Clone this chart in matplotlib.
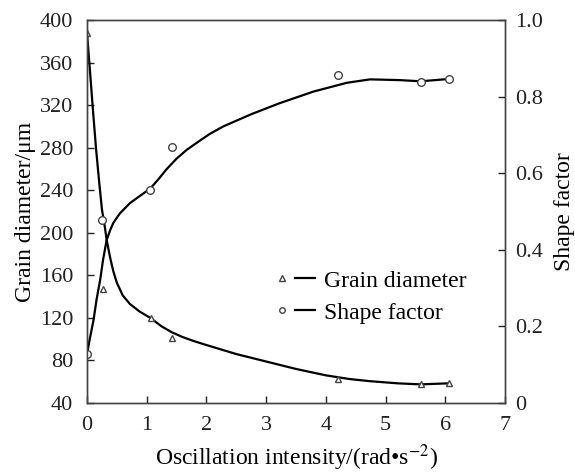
import matplotlib
matplotlib.use("Agg")
import matplotlib.pyplot as plt
from matplotlib.lines import Line2D
from matplotlib.legend_handler import HandlerTuple

plt.rcParams['font.family'] = ['Liberation Serif', 'DejaVu Serif']
plt.rcParams['mathtext.fontset'] = 'stix'

# measured points
x_grain = [0, 0.27, 1.08, 1.42, 4.2, 5.6, 6.06]
d_grain = [388, 147, 120, 101, 63, 58, 59]
x_shape = [0, 0.25, 1.06, 1.42, 4.2, 5.6, 6.06]
s_shape = [0.128, 0.477, 0.556, 0.668, 0.856, 0.838, 0.846]

# fitted curves
xc_grain = [0, 0.05, 0.1, 0.15, 0.2, 0.25, 0.3, 0.33, 0.39, 0.44, 0.5, 0.6, 0.72, 0.88, 1.06,
            1.25, 1.42, 1.6, 1.8, 2.0, 2.5, 3.0, 3.5, 4.0, 4.4, 4.74, 5.2, 5.58, 6.06]
dc_grain = [388, 352, 315, 280, 250, 222, 205, 193, 176, 164, 153, 141, 133, 126, 120,
            112, 106.5, 102, 98, 94.5, 86, 79, 72, 66, 62.5, 60.5, 58.5, 57.5, 58.5]
xc_shape = [0, 0.05, 0.11, 0.16, 0.22, 0.27, 0.33, 0.39, 0.44, 0.55, 0.72, 0.88, 1.06,
            1.2, 1.33, 1.5, 1.67, 1.89, 2.05, 2.28, 2.75, 3.23, 3.79, 4.35, 4.74, 5.24, 5.59, 6.06]
sc_shape = [0.128, 0.17, 0.217, 0.27, 0.321, 0.375, 0.426, 0.452, 0.47, 0.495, 0.522, 0.54, 0.56,
            0.585, 0.61, 0.638, 0.661, 0.685, 0.702, 0.722, 0.754, 0.783, 0.813, 0.836, 0.845,
            0.843, 0.84, 0.846]

fig = plt.figure(figsize=(5.75, 4.73), dpi=100)
ax = fig.add_axes([87/575, 1-403/473, (505-87)/575, (403-20)/473])
ax2 = ax.twinx()

ax.plot(xc_grain, dc_grain, color='black', lw=1.6)
ax.plot(x_grain, d_grain, linestyle='none', marker='^', ms=5, mfc='white', mec='#444444', mew=1)
ax2.plot(xc_shape, sc_shape, color='black', lw=1.6)
ax2.plot(x_shape, s_shape, linestyle='none', marker='o', ms=5.5, mfc='white', mec='#444444', mew=1)

ax.set_xlim(0, 7)
ax.set_ylim(40, 400)
ax2.set_ylim(0, 1.0)
ax.set_xticks(range(0, 8))
ax.set_yticks(range(40, 401, 40))
ax2.set_yticks([0, 0.2, 0.4, 0.6, 0.8, 1.0])
ax2.set_yticklabels(['0', '0.2', '0.4', '0.6', '0.8', '1.0'])

for a in (ax, ax2):
    a.tick_params(direction='in', length=5, width=1, labelsize=16, colors='#222222')
    for sp in a.spines.values():
        sp.set_color('#444444')
        sp.set_linewidth(1)
ax.tick_params(axis='x', pad=9)
ax.tick_params(axis='y', pad=10)
ax2.tick_params(axis='y', pad=7)

ax.set_xlabel('Oscillation intensity/(rad•s$^{-2}$)', fontsize=17, labelpad=6)
ax.set_ylabel('Grain diameter/μm', fontsize=17, labelpad=3)
ax2.set_ylabel('Shape factor', fontsize=17, labelpad=8)

h1 = (Line2D([], [], linestyle='none', marker='^', ms=4, mfc='white', mec='#444444'),
      Line2D([], [], color='black', lw=1.6))
h2 = (Line2D([], [], linestyle='none', marker='o', ms=4, mfc='white', mec='#444444'),
      Line2D([], [], color='black', lw=1.6))
ax.legend([h1, h2], ['Grain diameter', 'Shape factor'],
          handler_map={tuple: HandlerTuple(ndivide=None, pad=0.1)},
          loc='upper left', bbox_to_anchor=(0.415, 0.378), frameon=False,
          fontsize=17, handlelength=1.8, handletextpad=0.4, labelspacing=0.45,
          borderpad=0)

fig.savefig('out.png', dpi=100)
